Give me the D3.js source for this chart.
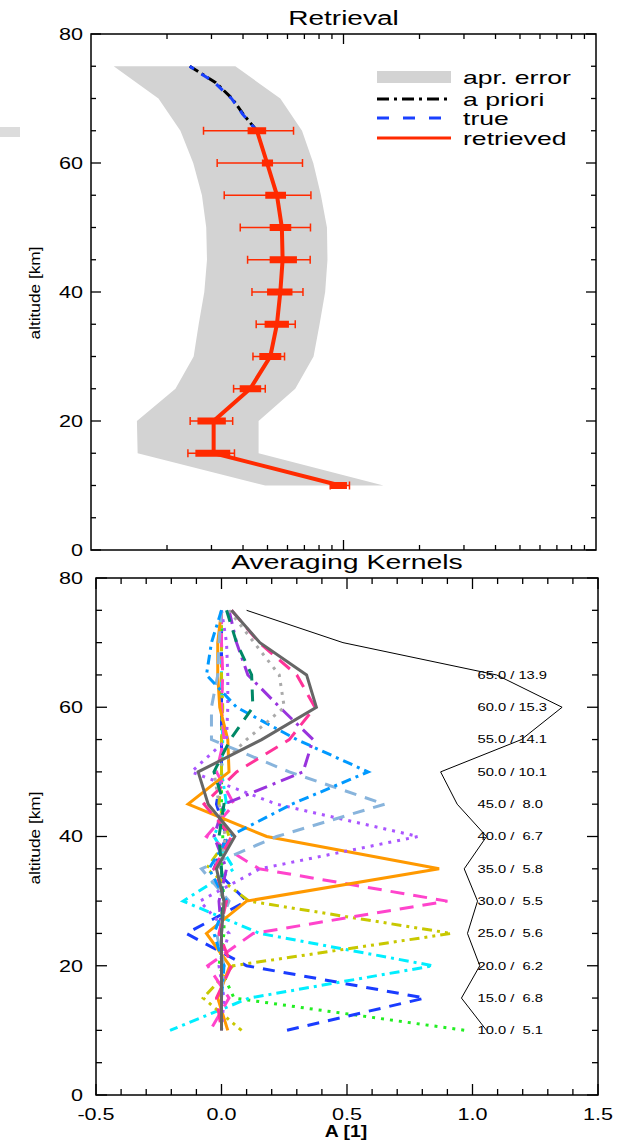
<!DOCTYPE html>
<html><head><meta charset="utf-8">
<script src="https://cdn.jsdelivr.net/npm/d3@7"></script>
<style>body{margin:0;background:#fff}svg{display:block}</style>
</head><body>
<svg id="c" width="621" height="1144"></svg>
<script>
// ---------- DATA: top panel (Retrieval) ----------
const bandAlt  = [75,70,65,60,55,50,45,40,35,30,25,20,15,10];
const bandLow  = [1.23,1.85,2.26,2.54,2.75,2.86,2.88,2.81,2.67,2.55,2.16,1.52,1.53,4.90];
const bandHigh = [3.73,5.62,6.85,7.59,8.14,8.60,8.64,8.46,8.04,7.61,6.44,4.61,4.61,14.4];
const aprAlt  = [75,72.5,70,67.5,65];
const aprVal  = [2.46,3.11,3.62,4.02,4.54];
const trueVal = [2.46,3.08,3.60,4.00,4.54];
const retAlt  = [65,60,55,50,45,40,35,30,25,20,15,10];
const retVal  = [4.54,4.98,5.45,5.70,5.74,5.62,5.45,5.13,4.27,3.06,3.06,9.70];
const errLow  = [2.79,3.16,3.37,3.90,4.17,4.34,4.51,4.38,3.67,2.47,2.42,8.86];
const errHigh = [6.34,6.88,7.43,7.40,7.38,6.91,6.44,5.84,4.90,3.64,3.70,10.56];
const smLow   = [4.17,4.75,4.90,5.10,5.10,4.98,4.87,4.64,3.88,2.64,2.59,8.92];
const smHigh  = [4.94,5.26,5.92,6.21,6.54,6.28,6.08,5.67,4.72,3.42,3.56,10.32];
const legendLabels = ["apr. error","a priori","true","retrieved"];
const topYTicks = [0,20,40,60,80];

// ---------- DATA: bottom panel (Averaging Kernels) ----------
const akAlt = [75,70,65,60,55,50,45,40,35,30,25,20,15,10];
const kernelPeaks = [10,15,20,25,30,35,40,45,50,55,60,65,70,75];
const k10 = [0,0,0,0,0,0,0,0.005,0,0.01,0.01,-0.01,0.05,0.97];
const k15 = [0,0,0,0,0,0,-0.02,0.02,-0.03,0.10,-0.14,0.10,0.81,0.26];
const k20 = [0,0,0,0,0.005,0,0.02,-0.03,0.05,-0.153,0.153,0.843,0.11,-0.205];
const k25 = [0,0,0,0.005,0,0,-0.01,0.03,-0.06,0.11,0.916,0.046,-0.073,0.08];
const k30 = [0,0,0.005,0,0.01,-0.02,0.05,-0.06,0.15,0.90,0.126,-0.055,0.03,-0.045];
const k35 = [0,-0.015,-0.015,-0.007,0.025,0.03,-0.133,0.18,0.867,0.10,-0.06,0.033,-0.015,0.025];
const k40 = [0,0.02,0.025,0.025,0.02,-0.12,0.22,0.783,0.153,-0.086,0.03,-0.01,0.01,0];
const k45 = [0,-0.01,-0.015,-0.04,-0.04,0.27,0.65,0.22,-0.08,0.03,-0.02,0.01,0,0];
const k50 = [0,-0.04,-0.06,0.06,0.30,0.584,0.28,0.03,-0.05,0.02,-0.03,0.01,0,0];
const k55 = [0.03,0.06,0.105,0.232,0.365,0.325,0.01,-0.03,0.02,-0.01,0,0,0,0];
const k60 = [0.04,0.15,0.30,0.372,0.27,0.06,-0.07,0.04,-0.03,0.02,-0.01,0.04,-0.02,0];
const k65 = [0.03,0.13,0.23,0.25,0.10,-0.03,-0.01,0.015,-0.005,0,0,0,0,0];
const k70 = [0.02,0.06,0.12,0.125,0.035,-0.03,0.01,-0.01,0,0.005,0,0,0,0];
const k75 = [0.04,0.153,0.339,0.378,0.16,-0.093,-0.053,0.053,-0.02,0.01,0,0,0,0];
const kernels = [k10,k15,k20,k25,k30,k35,k40,k45,k50,k55,k60,k65,k70,k75];
const kernelColors = ["#22ee22","#1a3cff","#00eeff","#c8c800","#ff44cc","#ff9900","#aa55ff","#88b4dc","#0099ff","#9933dd","#ff3399","#aaaaaa","#008866","#666666"];
const kernelDashes = ["3,6","12,9","10,5,3,5","10,5,3,5,3,5","14,9",null,"3,6","12,9","10,5,3,5","14,6,3,6","14,9","3,6","12,9",null];
const responseVal = [0.10,0.484,1.096,1.357,1.195,0.873,0.939,1.056,0.967,1.02,0.98,1.029,0.956,1.056];
const labelAlt = [65,60,55,50,45,40,35,30,25,20,15,10];
const labelRes = [13.9,15.3,14.1,10.1,8.0,6.7,5.8,5.5,5.6,6.2,6.8,5.1];
const botXTicks = [-0.5,0.0,0.5,1.0,1.5];
const botYTicks = [0,20,40,60,80];

// ---------- RENDER ----------
const FONT = "'Liberation Sans', Arial, Helvetica, sans-serif";
const svg = d3.select("#c");
function stretch(sel, k){
  sel.each(function(){
    const w = this.getComputedTextLength();
    if (w > 0){ this.setAttribute("textLength", (w*k).toFixed(1)); this.setAttribute("lengthAdjust","spacingAndGlyphs"); }
  });
}
svg.append("rect").attr("x",0).attr("y",127).attr("width",20).attr("height",10).attr("fill","#dcdcdc");

// ===== Top panel =====
const xT = d3.scaleLog().domain([1,100]).range([91,596]);
const yT = d3.scaleLinear().domain([0,80]).range([550,34]);
const gT = svg.append("g");

const bandData = bandAlt.map((a,i)=>({a, lo:bandLow[i], hi:bandHigh[i]}));
gT.append("path").datum(bandData)
  .attr("d", d3.area().y(d=>yT(d.a)).x0(d=>xT(d.lo)).x1(d=>xT(d.hi)))
  .attr("fill","#d3d3d3");

const lineT = d3.line().x(d=>xT(d.v)).y(d=>yT(d.a));
gT.append("path").datum(aprAlt.map((a,i)=>({a,v:aprVal[i]})))
  .attr("d", lineT).attr("fill","none").attr("stroke","#000").attr("stroke-width",3).attr("stroke-dasharray","10,4,3,4");
gT.append("path").datum(aprAlt.map((a,i)=>({a,v:trueVal[i]})))
  .attr("d", lineT).attr("fill","none").attr("stroke","#1a40ff").attr("stroke-width",3).attr("stroke-dasharray","9,9").attr("stroke-dashoffset",4);

const RED = "#ff2a00";
gT.append("path").datum(retAlt.map((a,i)=>({a,v:retVal[i]})))
  .attr("d", lineT).attr("fill","none").attr("stroke",RED).attr("stroke-width",4);
retAlt.forEach((a,i)=>{
  const y = yT(a);
  gT.append("line").attr("x1",xT(errLow[i])).attr("x2",xT(errHigh[i])).attr("y1",y).attr("y2",y).attr("stroke",RED).attr("stroke-width",1.5);
  [errLow[i],errHigh[i]].forEach(v=>{
    gT.append("line").attr("x1",xT(v)).attr("x2",xT(v)).attr("y1",y-4).attr("y2",y+4).attr("stroke",RED).attr("stroke-width",1.5);
  });
  gT.append("rect").attr("x",xT(smLow[i])).attr("width",xT(smHigh[i])-xT(smLow[i])).attr("y",y-3.5).attr("height",7).attr("fill",RED);
});

// axes top panel
function frameAxes(g, x, y, xMajor, xMinor, yMajor, yMinor, xLen, yLen){
  const [x0,x1] = x.range(); const [y0,y1] = y.range();
  const ln = (a,b,c,d)=>g.append("line").attr("x1",a).attr("y1",b).attr("x2",c).attr("y2",d).attr("stroke","#000").attr("stroke-width",1.3);
  xMajor.forEach(v=>{ const p=x(v); ln(p,y0,p,y0-xLen[0]); ln(p,y1,p,y1+xLen[0]); });
  xMinor.forEach(v=>{ const p=x(v); ln(p,y0,p,y0-xLen[1]); ln(p,y1,p,y1+xLen[1]); });
  yMajor.forEach(v=>{ const p=y(v); ln(x0,p,x0+yLen[0],p); ln(x1,p,x1-yLen[0],p); });
  yMinor.forEach(v=>{ const p=y(v); ln(x0,p,x0+yLen[1],p); ln(x1,p,x1-yLen[1],p); });
  g.append("rect").attr("x",x0).attr("y",y1).attr("width",x1-x0).attr("height",y0-y1).attr("fill","none").attr("stroke","#000").attr("stroke-width",1.5);
}
frameAxes(gT, xT, yT, [10], [2,3,4,5,6,7,8,9,20,30,40,50,60,70,80,90],
  topYTicks, d3.range(5,80,5).filter(v=>v%20), [10,5], [10,5]);
gT.selectAll(".yl").data(topYTicks).join("text")
  .attr("x",83).attr("y",d=>yT(d)).attr("dy","0.36em").attr("text-anchor","end")
  .attr("font-family",FONT).attr("font-size",16).text(d=>d).call(stretch,1.35);

svg.append("text").attr("x",343.5).attr("y",25).attr("text-anchor","middle")
  .attr("font-family",FONT).attr("font-size",20).text("Retrieval").call(stretch,1.4);
svg.append("text").attr("transform","translate(40,293) rotate(-90)").attr("text-anchor","middle")
  .attr("font-family",FONT).attr("font-size",15).text("altitude [km]").call(stretch,1.15);

// legend
const lg = svg.append("g").attr("font-family",FONT).attr("font-size",19);
const legY = [77,99,118,138];
lg.append("rect").attr("x",377).attr("y",legY[0]-6).attr("width",74).attr("height",12).attr("fill","#d3d3d3");
lg.append("line").attr("x1",377).attr("x2",451).attr("y1",legY[1]).attr("y2",legY[1]).attr("stroke","#000").attr("stroke-width",3).attr("stroke-dasharray","12,5,3,5");
lg.append("line").attr("x1",377).attr("x2",451).attr("y1",legY[2]).attr("y2",legY[2]).attr("stroke","#1a40ff").attr("stroke-width",3).attr("stroke-dasharray","12,14");
lg.append("line").attr("x1",377).attr("x2",451).attr("y1",legY[3]).attr("y2",legY[3]).attr("stroke",RED).attr("stroke-width",3);
lg.selectAll("text.l").data(legendLabels).join("text")
  .attr("x",463).attr("y",(d,i)=>legY[i]).attr("dy","0.35em").text(d=>d).call(stretch,1.4);

// ===== Bottom panel =====
const xB = d3.scaleLinear().domain([-0.5,1.5]).range([96,598]);
const yB = d3.scaleLinear().domain([0,80]).range([1095,578]);
const gB = svg.append("g");

gB.append("path").datum(akAlt.map((a,i)=>({a,v:responseVal[i]})))
  .attr("d", d3.line().x(d=>xB(d.v)).y(d=>yB(d.a)))
  .attr("fill","none").attr("stroke","#000").attr("stroke-width",1);

kernels.forEach((k,j)=>{
  gB.append("path").datum(akAlt.map((a,i)=>({a,v:k[i]})))
    .attr("d", d3.line().x(d=>xB(d.v)).y(d=>yB(d.a)))
    .attr("fill","none").attr("stroke",kernelColors[j]).attr("stroke-width",3)
    .attr("stroke-dasharray",kernelDashes[j]);
});

gB.selectAll("text.kl").data(labelAlt).join("text")
  .attr("x",xB(1.02)).attr("y",d=>yB(d)).attr("dy","0.36em")
  .attr("font-family",FONT).attr("font-size",10.5).style("white-space","pre")
  .text((d,i)=>d.toFixed(1)+" / "+labelRes[i].toFixed(1).padStart(4," "))
  .call(stretch,1.4);

const minorX = d3.range(-5,16).map(v=>v/10).filter(v=>Math.abs(v*2-Math.round(v*2))>1e-6);
frameAxes(gB, xB, yB, botXTicks, minorX, botYTicks, d3.range(5,80,5).filter(v=>v%20), [11,6], [11,6]);
gB.selectAll(".xl").data(botXTicks).join("text")
  .attr("x",d=>xB(d)).attr("y",1108).attr("dy","0.72em").attr("text-anchor","middle")
  .attr("font-family",FONT).attr("font-size",16).text(d=>d.toFixed(1)).call(stretch,1.35);
gB.selectAll(".yl").data(botYTicks).join("text")
  .attr("x",83).attr("y",d=>yB(d)).attr("dy","0.36em").attr("text-anchor","end")
  .attr("font-family",FONT).attr("font-size",16).text(d=>d).call(stretch,1.35);

svg.append("text").attr("x",347).attr("y",569).attr("text-anchor","middle")
  .attr("font-family",FONT).attr("font-size",20).text("Averaging Kernels").call(stretch,1.42);
svg.append("text").attr("transform","translate(40,838) rotate(-90)").attr("text-anchor","middle")
  .attr("font-family",FONT).attr("font-size",15).text("altitude [km]").call(stretch,1.15);
svg.append("text").attr("x",346).attr("y",1137).attr("text-anchor","middle")
  .attr("font-family",FONT).attr("font-size",17).attr("font-weight","bold").text("A [1]").call(stretch,1.14);
</script>
</body></html>
